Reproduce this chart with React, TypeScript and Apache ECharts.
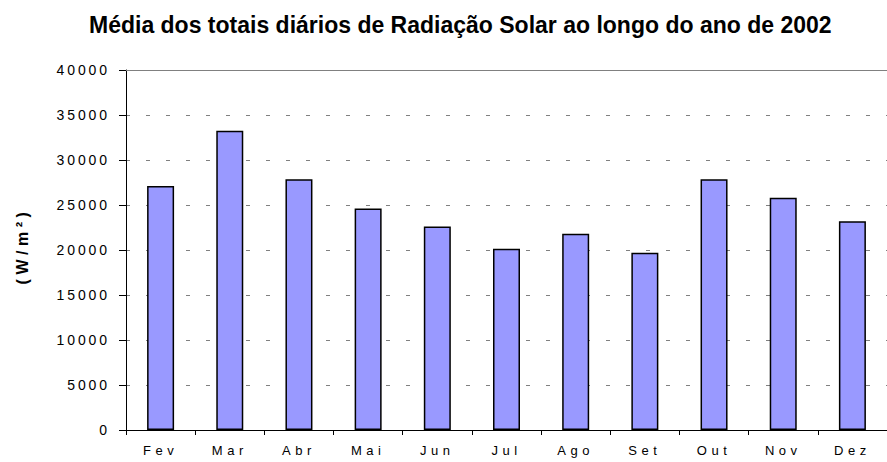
import React, { useEffect, useRef } from "react";
import * as echarts from "echarts";

const categories = ["Fev", "Mar", "Abr", "Mai", "Jun", "Jul", "Ago", "Set", "Out", "Nov", "Dez"];
const radiation = [27100, 33250, 27850, 24600, 22600, 20150, 21800, 19700, 27850, 25800, 23200];
const yTicks = { min: 0, max: 40000, interval: 5000 };
const titleText = "Média dos totais diários de Radiação Solar ao longo do ano de 2002";
const yName = "(W/m²)";

const css = `
.chart-box text { letter-spacing: 0px; }
.chart-box text[style*="14px"] { letter-spacing: 2.9px; }
.chart-box text[style*="13px"] { letter-spacing: 4.5px; }
.chart-box text[style*="16px"] { letter-spacing: 4.5px; }
`;

export default function App() {
  const ref = useRef<HTMLDivElement>(null);
  useEffect(() => {
    if (!ref.current) return;
    const chart = echarts.init(ref.current, null, { renderer: "svg" });
    chart.setOption({
      animation: false,
      backgroundColor: "#ffffff",
      title: {
        text: titleText,
        left: 84,
        top: 8,
        textStyle: {
          fontFamily: "Liberation Sans, Arial, sans-serif",
          fontWeight: "bold",
          fontSize: 23,
          color: "#000",
        },
      },
      grid: { left: 126, top: 70, width: 769, height: 360, containLabel: false },
      xAxis: [
        {
          type: "category",
          data: categories,
          boundaryGap: true,
          axisLine: { show: true, lineStyle: { color: "#000", width: 1 } },
          axisTick: { show: true, length: 5, alignWithLabel: false, lineStyle: { color: "#000" } },
          axisLabel: {
            margin: 14,
            fontFamily: "Liberation Sans, Arial, sans-serif",
            fontSize: 13,
            color: "#000",
          },
          splitLine: { show: false },
        },
        {
          type: "category",
          data: categories,
          position: "top",
          axisLine: { show: true, lineStyle: { color: "#808080", width: 1 } },
          axisTick: { show: false },
          axisLabel: { show: false },
        },
      ],
      yAxis: {
        type: "value",
        min: yTicks.min,
        max: yTicks.max,
        interval: yTicks.interval,
        name: yName,
        nameLocation: "middle",
        nameRotate: 90,
        nameGap: 96,
        nameTextStyle: {
          fontFamily: "Liberation Sans, Arial, sans-serif",
          fontWeight: "bold",
          fontSize: 16,
          color: "#000",
          padding: [0, 0, 0, 8],
        },
        axisLine: { show: true, lineStyle: { color: "#000", width: 1 } },
        axisTick: { show: true, length: 7, lineStyle: { color: "#000" } },
        axisLabel: {
          margin: 16,
          fontFamily: "Liberation Sans, Arial, sans-serif",
          fontSize: 14,
          color: "#000",
          formatter: (v: number) => String(v),
        },
        splitLine: {
          show: true,
          lineStyle: { color: "#808080", width: 1, type: [4, 16] },
        },
      },
      series: [
        {
          type: "bar",
          data: radiation,
          barWidth: 27,
          itemStyle: { color: "#9999ff", borderColor: "#000", borderWidth: 1.5 },
        },
      ],
    });
    return () => chart.dispose();
  }, []);
  return (
    <>
      <style>{css}</style>
      <div className="chart-box" ref={ref} style={{ width: 887, height: 462, position: "absolute", left: 0, top: 0, overflow: "hidden" }} />
    </>
  );
}
